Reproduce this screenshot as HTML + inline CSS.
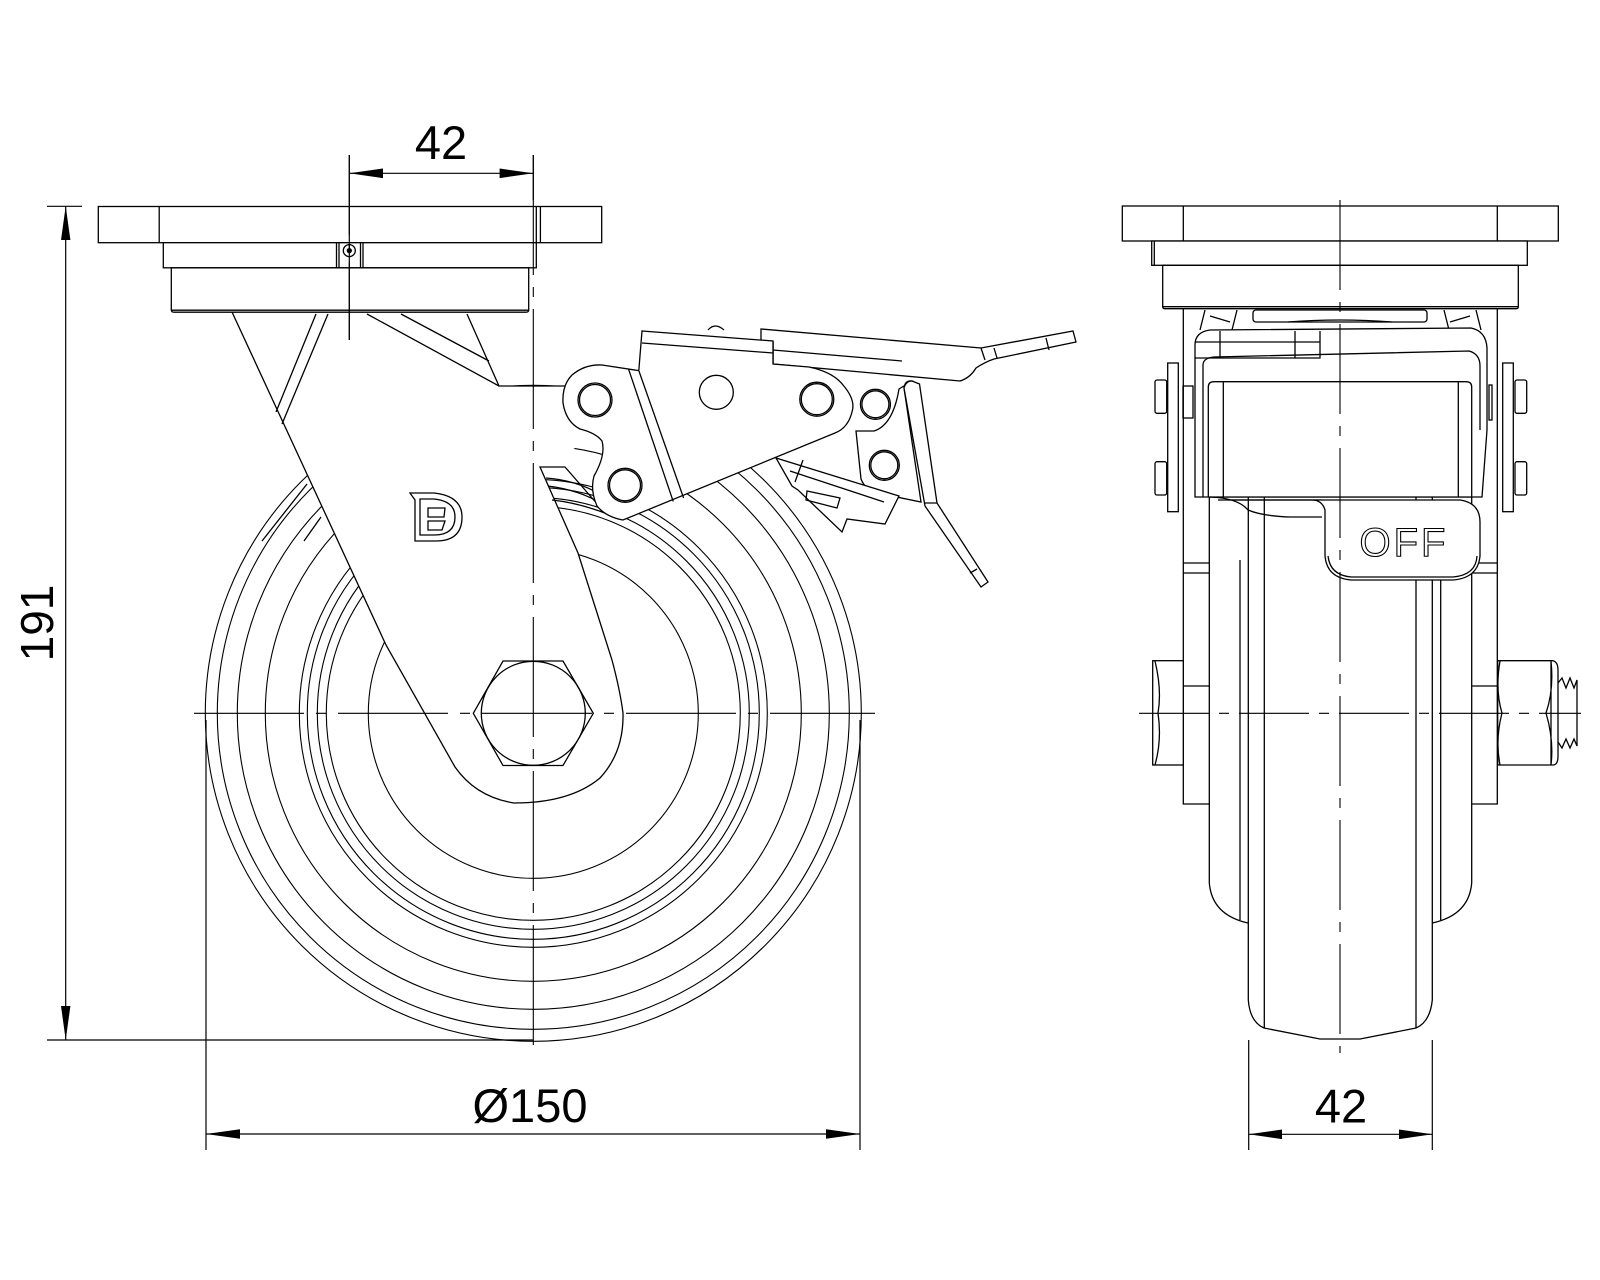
<!DOCTYPE html>
<html><head><meta charset="utf-8"><style>
html,body{margin:0;padding:0;background:#fff;width:1600px;height:1280px;overflow:hidden}
svg{display:block}
text{font-family:"Liberation Sans",sans-serif;fill:#000}
</style></head><body>
<svg width="1600" height="1280" viewBox="0 0 1600 1280" xmlns="http://www.w3.org/2000/svg">
<g fill="none" stroke="#000" stroke-width="1.3">

<!-- ================= LEFT VIEW ================= -->
<g stroke-width="1.1">
<circle cx="533.3" cy="713.3" r="328"/>
<circle cx="533.3" cy="713.3" r="316"/>
<circle cx="533.3" cy="713.3" r="296"/>
<circle cx="533.3" cy="713.3" r="268"/>
<circle cx="533.3" cy="713.3" r="234"/>
<circle cx="533.3" cy="713.3" r="226"/>
<circle cx="533.3" cy="713.3" r="216"/>
<circle cx="533.3" cy="713.3" r="207"/>
<circle cx="533.3" cy="713.3" r="165"/>
</g>

<!-- fork body fill -->
<path fill="#fff" stroke="none" d="M232,312 L467,312 L499,386 L590,386 L590,440 L540,467 L578,553 L612,660 Q620,690 623,713 Q624,752 600,778 Q570,803 514,803 Q476,797 455,767 L386,645 Z"/>
<!-- fork outline -->
<path d="M232,312 L386,645 L455,767 Q476,797 514,803 Q570,803 600,778 Q624,752 623,713 Q620,690 612,660 L578,553 L540,467 L565,467 L599,506"/>
<path d="M316,314 L276,412 M328,314 L282,424 M367,314 L499,386 M401,314 L489,361 M467,314 L499,386 L566,386"/>
<path d="M546,478 Q575,480 600,494 M548,486 Q580,490 604,505 M552,500 Q580,503 610,515"/>
<path d="M307,484 L262,541 M321,517 L304,541"/>

<!-- D logo -->
<path d="M410,493 L434,493 Q462,496 462,517 Q462,541 436,541 L415,541 L415,500 Z"/>
<path d="M420,499 L434,499 Q455,501 455,517 Q455,535 434,535 L420,535 Z"/>
<path d="M428,508 L445,508 L444,517 L428,517 Z M428,521 L445,521 L442,530 L428,530 Z"/>

<!-- hex nut & axle -->
<polygon fill="#fff" points="473.3,713.3 503,661 563,661 593.3,713.3 563,765.5 503,765.5"/>
<circle cx="533.3" cy="713.3" r="52"/>

<!-- top plate -->
<rect x="98.3" y="206.5" width="503.4" height="36.2" fill="#fff"/>
<path d="M159.2,206.5 V242.7 M540.4,206.5 V242.7 M536.3,206.5 V242.7"/>
<rect x="163.3" y="242.7" width="373" height="25.1" fill="#fff"/>
<path d="M336.5,242.7 V267.8 M339,242.7 V267.8 M360.5,242.7 V267.8 M363,242.7 V267.8"/>
<circle cx="349.3" cy="250.6" r="6"/>
<circle cx="349.3" cy="250.6" r="2" fill="#000"/>
<path fill="#fff" d="M171.3,267.8 V310 Q171.3,312.2 174,312.2 H526 Q528.7,312.2 528.7,310 V267.8 Z"/>
<path d="M171.3,310.2 H528.7"/>

<!-- lever handle -->
<path fill="#fff" d="M761,329 L981,348 L1073,331 L1076,342 L994,359 Q985,362 976,368 Q970,378 960,381 L773,364 L773,342 L761,341 Z"/>
<path d="M773,342 L773,364 M773,350 L902,361 M981,348 L985,360 M994,348 L997,358 M1046,338 L1049,350"/>
<path d="M708,330 Q715,322 724,330"/>
<!-- cam plate -->
<path fill="#fff" d="M642,331 L773,341 L773,364 L809,367 Q833,372 843,385 Q856,400 852,412 Q848,428 835,433 L623,520 Q606,517 597,506 Q590,490 594,476 Q606,455 602,441 Q596,433 580,429 Q566,422 563,403 Q562,385 572,375 Q585,364 602,365 L638.8,370.6 Z"/>
<path d="M642,343 L773,353 M628.5,368.9 L673.2,501.4 M638.8,370.6 L683.6,498"/>
<circle cx="595" cy="400" r="17"/><circle cx="595" cy="400" r="15.5"/>
<circle cx="625" cy="485.3" r="17"/><circle cx="625" cy="485.3" r="15.5"/>
<circle cx="716.3" cy="392.3" r="17"/>
<circle cx="816.8" cy="399.2" r="17"/><circle cx="816.8" cy="399.2" r="15.5"/>
<circle cx="875.4" cy="404.3" r="15"/><circle cx="875.4" cy="404.3" r="13.5"/>
<!-- right bracket -->
<path fill="#fff" d="M899,389 Q893,425 874,431 L856,431 L861,479 Q866,492 882,494 L921,502 L904,388 Q905,380 912,381 Z"/>
<circle cx="884.3" cy="465.3" r="15"/><circle cx="884.3" cy="465.3" r="13.5"/>
<!-- pedal -->
<path fill="#fff" d="M904,388 Q906,381 912,381 L919.5,384 L937,503 L988,582 L981,587 L925,506 Z"/>
<path d="M925,503 L937,503 M970,573 L977,569"/>
<!-- latch box -->
<path fill="#fff" d="M776,458 L899,496 L885,524 L847,519 L842,532 L798,490 L792,486 Z"/>
<path d="M807,491 L840,498 L837,508 L806,500 Z M790,471 L884,502 M803,460 L795,482"/>

<!-- ================= RIGHT VIEW ================= -->
<path d="M1248.3,497 V1000 Q1250,1022 1264,1028 L1320,1039 H1360 L1416,1028 Q1430,1022 1432.3,1000 V497"/>
<path d="M1264.3,497 V1028 M1416,497 V1028 M1240,560 V920 M1440.7,560 V920"/>
<path d="M1183.3,309 V804 H1209.3 M1497.3,309 V804 H1471.7"/>
<path d="M1209.3,497 V883 Q1212,915 1248,923 M1471.7,497 V883 Q1469,915 1432.3,923"/>
<path d="M1183.3,686 H1209.3 M1471.7,686 H1497.3 M1183.3,563 H1209.3 M1183.3,573 H1209.3 M1471.7,563 H1497.3 M1471.7,573 H1497.3"/>
<rect x="1152.7" y="660.7" width="30.6" height="104.3" fill="#fff"/>
<path d="M1155,661 Q1162,690 1158,713 Q1162,740 1155,765"/>
<path fill="#fff" d="M1497.7,660.7 H1553 Q1558,662 1558,670 V756 Q1558,765 1553,765 H1497.7 Z"/>
<path d="M1500,661 Q1495,690 1502,713 Q1495,740 1500,765 M1551,661 Q1554,690 1546,713 Q1554,740 1551,765 M1551,661 V765"/>
<path d="M1558,683 L1562,678 L1566,688 L1570,678 L1574,688 L1577,680 V746 L1574,739 L1570,748 L1566,739 L1562,748 L1558,742"/>

<rect x="1122.3" y="206" width="436" height="35" fill="#fff"/>
<path d="M1183.3,206 V241 M1497.3,206 V241"/>
<rect x="1151.7" y="241" width="375.6" height="24.3" fill="#fff"/>
<path d="M1154.3,241 V265.3"/>
<path fill="#fff" d="M1162.7,265.3 V307 Q1162.7,308.7 1165,308.7 H1516 Q1518.3,308.7 1518.3,307 V265.3 Z"/>
<path d="M1162.7,306.7 H1518.3"/>
<rect x="1253" y="310" width="174" height="12" rx="3"/>
<path d="M1205,310 L1200,330 M1237,310 L1232,330 M1444,310 L1449,330 M1476,310 L1481,330 M1210,316 L1230,322 M1470,316 L1450,322 M1288,322 Q1340,318 1392,322"/>

<rect x="1167.7" y="363" width="10.6" height="148.7"/>
<rect x="1502.7" y="363" width="10.6" height="148.7"/>
<rect x="1155" y="380" width="11.7" height="33.3" rx="2"/>
<rect x="1155" y="461.7" width="11.7" height="33.3" rx="2"/>
<rect x="1515" y="380" width="11.7" height="33.3" rx="2"/>
<rect x="1515" y="461.7" width="11.7" height="33.3" rx="2"/>
<rect x="1183" y="386" width="10" height="32"/>
<rect x="1197" y="445" width="10" height="30"/>
<rect x="1489" y="385" width="3" height="35"/>
<rect x="1474" y="442" width="4" height="35"/>

<path fill="#fff" d="M1195,497 V345 Q1195,332 1210,330 L1471,328 Q1486,331 1487,348 V430 L1482,497 Z"/>
<path d="M1203,497 V365 Q1203,358 1214,357 L1469,351 Q1480,354 1480,366 V430"/>
<path d="M1195,342 H1320 M1320,331 V358 H1195 M1220,331 V358 M1295,331 V358"/>
<path fill="#fff" d="M1208.3,497 V387 Q1208.3,381.7 1214,381.7 H1466 Q1471.7,381.7 1471.7,387 V497 Z"/>
<path d="M1223.3,381.7 V497 M1458.3,381.7 V497"/>
<path d="M1210,497 Q1238,498 1248,510 Q1262,516 1290,517 H1322 M1228,500 H1322"/>
<path fill="#fff" d="M1218,500 H1460 Q1480,503 1480,522 V556 Q1478,578 1453,580 H1351 Q1327,578 1325,556 V510 Q1322,500 1312,500"/>
<path d="M1328,556 Q1330,575 1351,577 H1453 Q1476,575 1477,556"/>
<text x="1404" y="556" font-size="40" text-anchor="middle" letter-spacing="3" stroke="#000" stroke-width="1.1" style="fill:none">OFF</text>
</g>

<!-- ================= CENTER LINES ================= -->
<g fill="none" stroke="#000" stroke-width="1.1">
<path d="M533.3,155 V1050" stroke-dasharray="120,12,10,12"/>
<path d="M194,713.3 H875" stroke-dasharray="110,12,10,12"/>
<path d="M349.3,155 V340" stroke-dasharray="80,10,8,10"/>
<path d="M1340,200 V1053" stroke-dasharray="90,12,10,12"/>
<path d="M1139,713.3 H1581" stroke-dasharray="70,10,10,10"/>
</g>

<!-- ================= DIMENSIONS ================= -->
<g fill="none" stroke="#000" stroke-width="1.2">
<path d="M349.3,155 V340 M533.3,155 V200 M349.3,173.3 H533.3"/>
<path d="M47,206.3 H82 M65.7,206.3 V1040 M47,1040 H533"/>
<path d="M206,720 V1150 M860,720 V1150 M206,1134 H860"/>
<path d="M1248.7,1040 V1150 M1432.3,1040 V1150 M1248.7,1134.3 H1432.3"/>
</g>
<g fill="#000">
<polygon points="349.3,173.3 383,168.5 383,178.1"/>
<polygon points="533.3,173.3 499.6,168.5 499.6,178.1"/>
<polygon points="65.7,206.3 61,240 70.4,240"/>
<polygon points="65.7,1040 61,1006 70.4,1006"/>
<polygon points="206,1134 240,1129.2 240,1138.8"/>
<polygon points="860,1134 826,1129.2 826,1138.8"/>
<polygon points="1248.7,1134.3 1282,1129.5 1282,1139.1"/>
<polygon points="1432.3,1134.3 1399,1129.5 1399,1139.1"/>
</g>
<text x="441" y="159" font-size="47" text-anchor="middle">42</text>
<text x="53" y="623" font-size="46" text-anchor="middle" transform="rotate(-90 53 623)">191</text>
<text x="530" y="1122" font-size="47" text-anchor="middle">Ø150</text>
<text x="1341" y="1122.7" font-size="47" text-anchor="middle">42</text>
</svg>
</body></html>
